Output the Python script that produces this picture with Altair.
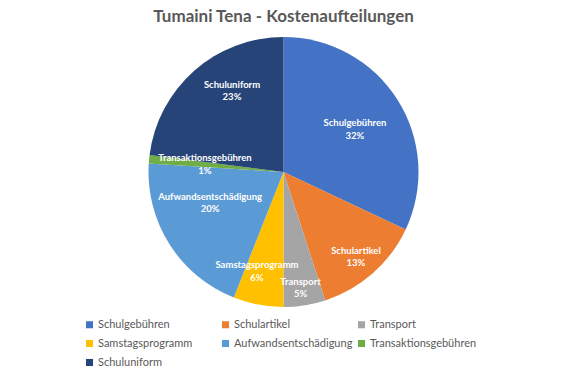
import altair as alt
import pandas as pd

categories = ["Schulgebühren", "Schulartikel", "Transport", "Samstagsprogramm",
              "Aufwandsentschädigung", "Transaktionsgebühren", "Schuluniform"]
percents = [32, 13, 5, 6, 20, 1, 23]
colors = ["#4472C4", "#ED7D31", "#A5A5A5", "#FFC000", "#5B9BD5", "#70AD47", "#264478"]

df = pd.DataFrame({"category": categories, "value": percents, "idx": list(range(len(categories)))})

FONT = "Lato"
CX, CY, R = 283.5, 136, 135

color = alt.Color("category:N", sort=categories,
                  scale=alt.Scale(domain=categories, range=colors),
                  legend=alt.Legend(title=None, orient="none", legendX=84, legendY=283,
                                    columns=3, direction="horizontal", gridAlign="all",
                                    symbolType="square", symbolSize=50, symbolStrokeWidth=0,
                                    labelFontSize=11, labelFont=FONT, labelColor="#595959",
                                    columnPadding=3, rowPadding=7, labelOffset=3, labelLimit=200))

pie = alt.Chart(df).mark_arc(x=CX, y=CY, outerRadius=R).encode(
    theta=alt.Theta("value:Q", stack=True, scale=alt.Scale(domain=[0, 100])),
    order=alt.Order("idx:Q"),
    color=color,
)

lab_base = alt.Chart(df).transform_window(
    cum="sum(value)", sort=[alt.SortField("idx")], frame=[None, 0]
).transform_calculate(
    mid="datum.cum - datum.value / 2",
    label="[datum.category, format(datum.value, 'd') + '%']",
)

def labels(cat, radius, dx=0.0, dy=0.0):
    return lab_base.transform_filter(
        alt.datum.category == cat
    ).mark_text(x=CX, y=CY, radius=radius, dx=dx, dy=dy - 6.25, font=FONT, fontSize=9.5,
                fontWeight="bold", color="white", lineHeight=12.5, align="center",
                baseline="middle").encode(
        theta=alt.Theta("mid:Q", scale=alt.Scale(domain=[0, 100], range=[0, 6.283185307])),
        text="label:N",
    )

chart = alt.layer(
    pie,
    labels("Schulgebühren", 83, 1.4, 2),
    labels("Schulartikel", 111.7, -1.4, 1.2),
    labels("Transport", 117.2, -1.3, 0),
    labels("Samstagsprogramm", 103, -7.2, -1.7),
    labels("Aufwandsentschädigung", 79.8, -6, -12),
    labels("Transaktionsgebühren", 78.9, 0, 0),
    labels("Schuluniform", 96, 12, -9),
).properties(
    width=567, height=340,
    padding={"left": 0, "top": 36, "right": 0, "bottom": 0},
    autosize=alt.AutoSizeParams(type="none"),
    title=alt.Title("Tumaini Tena - Kostenaufteilungen", font=FONT, fontSize=17,
                    fontWeight="bold", color="#595959", anchor="middle", offset=10),
).configure_view(stroke=None)

chart.save("out.html", embed_options={"renderer": "svg", "actions": False})
